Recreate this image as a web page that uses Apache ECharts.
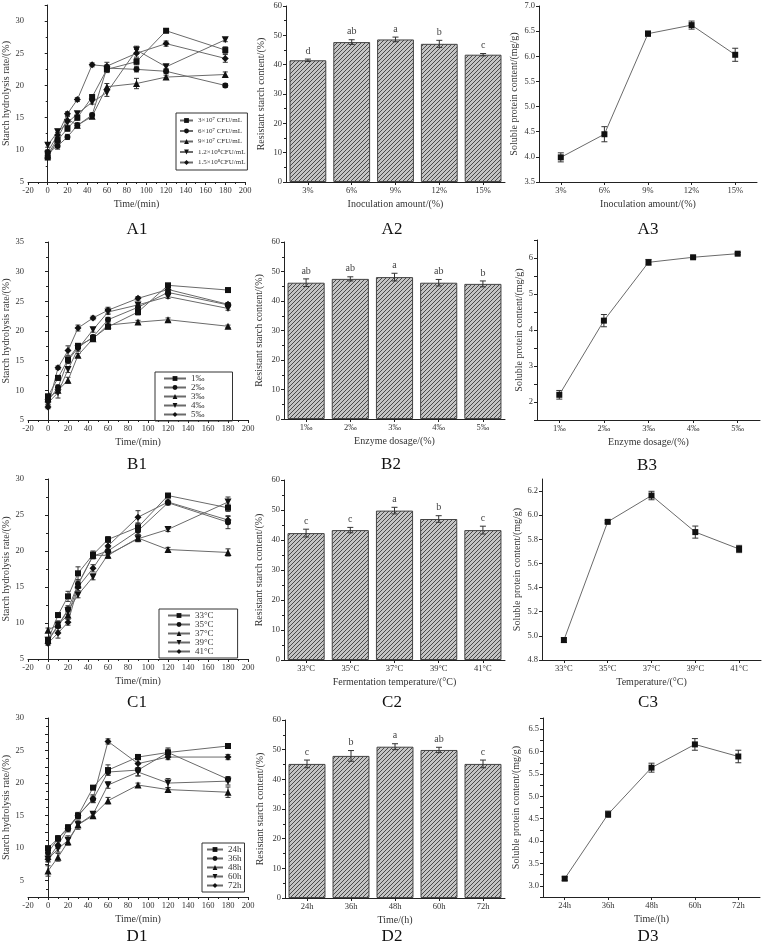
<!DOCTYPE html>
<html><head><meta charset="utf-8">
<script src="https://cdn.jsdelivr.net/npm/echarts@6/dist/echarts.min.js"></script>
<style>html,body{margin:0;padding:0;background:#fff}#c{width:767px;height:946px}</style>
</head><body><div id="c"></div>
<script>
// ---------- DATA ----------
const timeMin = [0,10,20,30,45,60,90,120,180];

const a1Names = ['3×10⁷ CFU/mL','6×10⁷ CFU/mL','9×10⁷ CFU/mL','1.2×10⁸CFU/mL','1.5×10⁸CFU/mL'];
const a1Values = [
  [8.8,11.5,13.3,15.0,18.2,22.5,23.7,28.5,25.5],
  [9.5,10.6,12.0,13.8,15.4,22.7,22.5,22.2,20.0],
  [9.2,11.8,14.8,13.8,15.2,19.8,20.3,21.3,21.7],
  [10.7,12.8,14.2,15.6,17.4,18.9,25.5,22.9,27.1],
  [9.7,12.3,15.6,17.8,23.2,23.0,25.0,26.5,24.2]
];
const a1Errors = [
  [0.3,0.5,0.4,0.4,0.3,0.5,0.5,0.3,0.5],
  [0.3,0.5,0.4,0.4,0.3,0.5,0.4,0.3,0.3],
  [0.3,0.4,0.4,0.3,0.3,0.5,0.8,0.3,0.4],
  [0.3,0.4,0.4,0.3,0.3,0.6,0.6,0.3,0.3],
  [0.3,0.4,0.3,0.3,0.3,0.6,0.6,0.4,0.6]
];

const b1Names = ['1‰','2‰','3‰','4‰','5‰'];
const b1Values = [
  [9.0,12.1,15.2,17.5,18.8,20.7,23.2,27.7,26.9],
  [8.2,10.5,15.0,17.2,19.0,21.9,24.0,26.5,24.4],
  [8.6,10.0,11.7,15.9,18.7,21.0,21.5,21.9,20.8],
  [7.9,9.6,13.5,17.0,20.2,23.2,24.4,25.8,23.8],
  [7.2,13.8,16.7,20.5,22.2,23.5,25.5,27.0,24.5]
];
const b1Errors = [
  [0.3,0.4,0.4,0.4,0.3,0.3,0.5,0.3,0.3],
  [0.3,0.4,0.5,0.4,0.3,0.4,0.4,0.3,0.3],
  [0.3,0.4,0.5,0.3,0.3,0.3,0.3,0.3,0.2],
  [0.3,0.9,0.5,0.4,0.4,0.4,0.4,0.3,0.3],
  [0.3,0.3,0.8,0.5,0.3,0.5,0.3,0.3,0.3]
];

const c1Names = ['33°C','35°C','37°C','39°C','41°C'];
const c1Values = [
  [7.6,11.1,13.7,16.9,19.5,21.6,23.3,27.7,26.0],
  [7.5,9.6,11.9,15.4,19.3,20.0,22.8,26.7,24.0],
  [9.0,9.8,11.1,15.3,19.4,19.4,21.8,20.2,19.8],
  [7.6,9.7,11.7,13.9,16.4,19.5,21.7,23.0,26.8],
  [7.2,8.6,10.1,15.0,17.6,20.7,24.7,26.8,24.3]
];
const c1Errors = [
  [0.4,0.3,0.7,0.9,0.5,0.4,0.6,0.3,0.5],
  [0.4,0.7,0.5,0.6,0.4,0.5,0.5,0.3,0.9],
  [0.3,0.4,0.5,0.5,0.4,0.4,0.5,0.3,0.5],
  [0.4,0.4,0.5,0.4,0.4,0.4,0.4,0.3,0.7],
  [0.3,0.7,0.4,0.5,0.5,0.5,0.9,0.3,0.5]
];

const d1Names = ['24h','36h','48h','60h','72h'];
const d1Values = [
  [10.0,11.5,13.2,15.0,19.3,22.0,24.0,24.7,25.7],
  [9.3,11.5,13.0,15.0,17.5,21.7,22.0,24.7,20.6],
  [6.5,8.6,11.0,13.6,15.0,17.3,19.7,19.0,18.6],
  [8.3,9.9,11.2,13.6,15.2,19.7,21.7,20.0,20.3],
  [8.3,10.5,13.0,15.0,17.6,26.4,23.0,24.0,24.0]
];
const d1Errors = [
  [0.3,0.4,0.4,0.4,0.3,0.8,0.4,0.7,0.3],
  [0.4,0.4,0.5,0.5,0.5,0.5,0.9,0.5,0.4],
  [0.8,0.6,0.5,0.5,0.4,0.5,0.3,0.3,0.8],
  [0.4,0.5,0.7,0.7,0.4,0.5,0.6,0.7,0.6],
  [0.4,0.5,0.4,0.4,0.6,0.4,0.6,0.4,0.4]
];

const inocCats = ['3%','6%','9%','12%','15%'];
const a2Values = [41.5,47.7,48.6,47.1,43.4];
const a2Errors = [0.4,0.8,0.8,1.2,0.4];
const a2Letters = ['d','ab','a','b','c'];
const a3Values = [3.99,4.45,6.45,6.62,6.03];
const a3Errors = [0.09,0.15,0.05,0.08,0.13];

const enzCats = ['1‰','2‰','3‰','4‰','5‰'];
const b2Values = [46.2,47.5,48.1,46.2,45.8];
const b2Errors = [1.3,0.7,1.3,1.1,1.0];
const b2Letters = ['ab','ab','a','ab','b'];
const b3Values = [2.20,4.26,5.88,6.02,6.12];
const b3Errors = [0.12,0.17,0.08,0.03,0.03];

const tempCats = ['33°C','35°C','37°C','39°C','41°C'];
const c2Values = [42.3,43.3,49.8,47.0,43.3];
const c2Errors = [1.3,0.9,1.1,1.1,1.3];
const c2Letters = ['c','c','a','b','c'];
const c3Values = [4.965,5.945,6.163,5.86,5.72];
const c3Errors = [0.02,0.01,0.035,0.05,0.03];

const hourCats = ['24h','36h','48h','60h','72h'];
const d2Values = [45.2,47.9,51.0,49.9,45.2];
const d2Errors = [1.3,1.8,1.0,0.9,1.3];
const d2Letters = ['c','b','a','ab','c'];
const d3Values = [3.16,4.60,5.64,6.16,5.89];
const d3Errors = [0.04,0.07,0.10,0.13,0.14];

const panelLabels = ['A1','A2','A3','B1','B2','B3','C1','C2','C3','D1','D2','D3'];

// ---------- LAYOUT / STYLE ----------
const FF = 'Liberation Serif';
const TXT = '#333';
const symbols = ['rect','circle','triangle','path://M0,0 L10,0 L5,10 Z','diamond'];
const symSizes = [6,6,7,7,7];

function hatch(){
  const c = document.createElement('canvas'); c.width = 4; c.height = 4;
  const g = c.getContext('2d');
  g.fillStyle = '#c4c4c4'; g.fillRect(0,0,4,4);
  g.strokeStyle = '#4a4a4a'; g.lineWidth = 1;
  g.beginPath();
  g.moveTo(0,4); g.lineTo(4,0);
  g.moveTo(-1,1); g.lineTo(1,-1);
  g.moveTo(3,5); g.lineTo(5,3);
  g.stroke();
  return c;
}
const hatchImg = hatch();

const grids = [], xAxes = [], yAxes = [], series = [], legends = [], graphics = [];

const axisLineStyle = {show:true, lineStyle:{color:'#222', width:1}};
const tickStyle = {show:true, inside:false, length:3, lineStyle:{color:'#222'}};
const minorStyle = {show:true, splitNumber:2, length:2, lineStyle:{color:'#222'}};
function labelStyle(extra){ return Object.assign({color:TXT, fontSize:8.5, fontFamily:FF, margin:4}, extra||{}); }
function nameStyle(){ return {color:TXT, fontSize:10, fontFamily:FF}; }

function addGrid(g){ grids.push({left:g[0], top:g[1], width:g[2], height:g[3], containLabel:false}); return grids.length-1; }

function errBarRender(letters, cap){
  return function(params, api){
    const x = api.value(0), v = api.value(1), e = api.value(2);
    const hi = api.coord([x, v+e]), lo = api.coord([x, v-e]);
    const w = cap;
    const ls = {stroke:'#333', lineWidth:1};
    const ch = [
      {type:'line', shape:{x1:hi[0], y1:hi[1], x2:lo[0], y2:lo[1]}, style:ls},
      {type:'line', shape:{x1:hi[0]-w, y1:hi[1], x2:hi[0]+w, y2:hi[1]}, style:ls},
      {type:'line', shape:{x1:lo[0]-w, y1:lo[1], x2:lo[0]+w, y2:lo[1]}, style:ls}
    ];
    if (letters) {
      ch.push({type:'text', x:hi[0], y:hi[1]-3, style:{text:letters[params.dataIndex], fill:'#444', font:'10px "'+FF+'"', align:'center', verticalAlign:'bottom'}});
    }
    return {type:'group', children:ch};
  };
}

// time line panel
function timePanel(g, yCfg, names, values, errors, legendCfg, yNameGap){
  const gi = addGrid(g);
  xAxes.push({gridIndex:gi, type:'value', min:-20, max:200, interval:20,
    axisLine:axisLineStyle, axisTick:tickStyle, minorTick:minorStyle, splitLine:{show:false},
    axisLabel:labelStyle(), name:'Time/(min)', nameLocation:'middle', nameGap:17, nameTextStyle:nameStyle()});
  yAxes.push(Object.assign({gridIndex:gi, type:'value', axisLine:axisLineStyle, axisTick:tickStyle, minorTick:minorStyle,
    splitLine:{show:false}, axisLabel:labelStyle(Object.assign({showMaxLabel:yCfg.showMax!==false}, yCfg.fmt?{formatter:yCfg.fmt}:{})),
    name:'Starch hydrolysis rate/(%)', nameLocation:'middle', nameGap:yNameGap, nameTextStyle:nameStyle()}, yCfg.axis));
  const errData = [];
  names.forEach((n,i)=>{
    series.push({type:'line', name:n, xAxisIndex:gi, yAxisIndex:gi, z:3,
      data: timeMin.map((t,k)=>[t, values[i][k]]),
      symbol:symbols[i], symbolSize:symSizes[i], showSymbol:true,
      lineStyle:{color:'#6a6a6a', width:1}, itemStyle:{color:'#111'}, animation:false});
    timeMin.forEach((t,k)=>errData.push([t, values[i][k], errors[i][k]]));
  });
  series.push({type:'custom', xAxisIndex:gi, yAxisIndex:gi, z:2, renderItem:errBarRender(null, 2.5), data:errData, animation:false, silent:true});
  legends.push(Object.assign({orient:'vertical', data:names, itemWidth:18, itemHeight:6,
    borderColor:'#333', borderWidth:1, borderRadius:0, padding:[3,4,3,4],
    textStyle:{color:TXT, fontSize:9, fontFamily:FF, padding:[0,0,0,0]}, selectedMode:false}, legendCfg));
}

function barPanel(g, cats, xName, values, errors, letters, yNameGap){
  const gi = addGrid(g);
  xAxes.push({gridIndex:gi, type:'category', data:cats, axisLine:axisLineStyle, axisTick:Object.assign({alignWithLabel:true}, tickStyle),
    axisLabel:labelStyle(), name:xName, nameLocation:'middle', nameGap:17, nameTextStyle:nameStyle()});
  yAxes.push({gridIndex:gi, type:'value', min:0, max:60, interval:10, axisLine:axisLineStyle, axisTick:tickStyle, minorTick:minorStyle,
    splitLine:{show:false}, axisLabel:labelStyle(),
    name:'Resistant starch content/(%)', nameLocation:'middle', nameGap:yNameGap, nameTextStyle:nameStyle()});
  series.push({type:'bar', xAxisIndex:gi, yAxisIndex:gi, data:values, barWidth:'84%',
    itemStyle:{color:{image:hatchImg, repeat:'repeat'}, borderColor:'#444', borderWidth:1}, animation:false, z:2});
  series.push({type:'custom', xAxisIndex:gi, yAxisIndex:gi, z:3, renderItem:errBarRender(letters, 3),
    data:values.map((v,i)=>[i, v, errors[i]]), animation:false, silent:true});
}

function dotPanel(g, cats, xName, values, errors, yCfg, yNameGap){
  const gi = addGrid(g);
  xAxes.push({gridIndex:gi, type:'category', data:cats, axisLine:axisLineStyle, axisTick:Object.assign({alignWithLabel:true}, tickStyle),
    axisLabel:labelStyle(), name:xName, nameLocation:'middle', nameGap:17, nameTextStyle:nameStyle()});
  yAxes.push(Object.assign({gridIndex:gi, type:'value', axisLine:axisLineStyle, axisTick:tickStyle,
    splitLine:{show:false}, axisLabel:labelStyle({formatter:yCfg.fmt, showMaxLabel:yCfg.showMax!==false}),
    name:'Soluble protein content/(mg/g)', nameLocation:'middle', nameGap:yNameGap, nameTextStyle:nameStyle()}, yCfg.axis));
  series.push({type:'line', xAxisIndex:gi, yAxisIndex:gi, data:values, symbol:'rect', symbolSize:6,
    lineStyle:{color:'#6a6a6a', width:1}, itemStyle:{color:'#111'}, z:3, animation:false});
  series.push({type:'custom', xAxisIndex:gi, yAxisIndex:gi, z:2, renderItem:errBarRender(null, 3),
    data:values.map((v,i)=>[i, v, errors[i]]), animation:false, silent:true});
}

const fix1 = v => v.toFixed(1);
// Row A
timePanel([27,5,218,177], {axis:{min:5, max:32.5, interval:5}, showMax:false}, a1Names, a1Values, a1Errors,
  {left:176, top:113, itemGap:3.5, itemWidth:13, textStyle:{color:TXT, fontSize:7, fontFamily:FF}, padding:[4,2,4,3]}, 17);
barPanel([286,6,219,176], inocCats, 'Inoculation amount/(%)', a2Values, a2Errors, a2Letters, 20);
dotPanel([539,6,218,176], inocCats, 'Inoculation amount/(%)', a3Values, a3Errors, {axis:{min:3.5, max:7, interval:0.5}, fmt:fix1}, 20);
// Row B
timePanel([27,242,221,178], {axis:{min:5, max:35, interval:5}}, b1Names, b1Values, b1Errors,
  {left:155, top:372, itemGap:0, itemWidth:22, padding:[2,28,2,8]}, 17);
barPanel([284,242,221,177], enzCats, 'Enzyme dosage/(%)', b2Values, b2Errors, b2Letters, 20);
dotPanel([537,240,223,180], enzCats, 'Enzyme dosage/(%)', b3Values, b3Errors, {axis:{min:1.5, max:6.5, interval:0.5}, fmt:v=>Math.abs(v-Math.round(v))<1e-6?String(Math.round(v)):''}, 13);
// Row C
timePanel([27,479,221,180], {axis:{min:5, max:30, interval:5}}, c1Names, c1Values, c1Errors,
  {left:159, top:609, itemGap:0, itemWidth:22, padding:[2,24,2,8]}, 17);
barPanel([284,480,221,180], tempCats, 'Fermentation temperature/(°C)', c2Values, c2Errors, c2Letters, 20);
dotPanel([542,479,219,181], tempCats, 'Temperature/(°C)', c3Values, c3Errors, {axis:{min:4.8, max:6.3, interval:0.2}, fmt:fix1, showMax:false}, 20);
// Row D
timePanel([27,718,221,179], {axis:{min:2.5, max:30, interval:2.5}, fmt:v=>Math.abs(v/5-Math.round(v/5))<1e-6?String(Math.round(v)):''}, d1Names, d1Values, d1Errors,
  {left:202, top:843, itemGap:0, itemWidth:16, padding:[2,3,2,4]}, 17);
barPanel([285,720,220,178], hourCats, 'Time/(h)', d2Values, d2Errors, d2Letters, 20);
dotPanel([543,718,217,179], hourCats, 'Time/(h)', d3Values, d3Errors, {axis:{min:2.75, max:6.75, interval:0.25}, fmt:v=>Math.abs(v*2-Math.round(v*2))<1e-6?v.toFixed(1):''}, 22);

// panel labels
const labelPos = [[137,230],[392,230],[648,230],[137,465],[391,465],[647,466],[137,703],[392,703],[648,703],[137,937],[392,937],[648,937]];
panelLabels.forEach((t,i)=>{
  graphics.push({type:'text', x:labelPos[i][0], y:labelPos[i][1], style:{text:t, fill:'#111', font:'17px "'+FF+'"', align:'center', verticalAlign:'middle'}});
});

const chart = echarts.init(document.getElementById('c'), null, {renderer:'canvas'});
chart.setOption({
  animation:false,
  textStyle:{fontFamily:FF},
  grid:grids, xAxis:xAxes, yAxis:yAxes, series:series, legend:legends, graphic:graphics
});
</script></body></html>
